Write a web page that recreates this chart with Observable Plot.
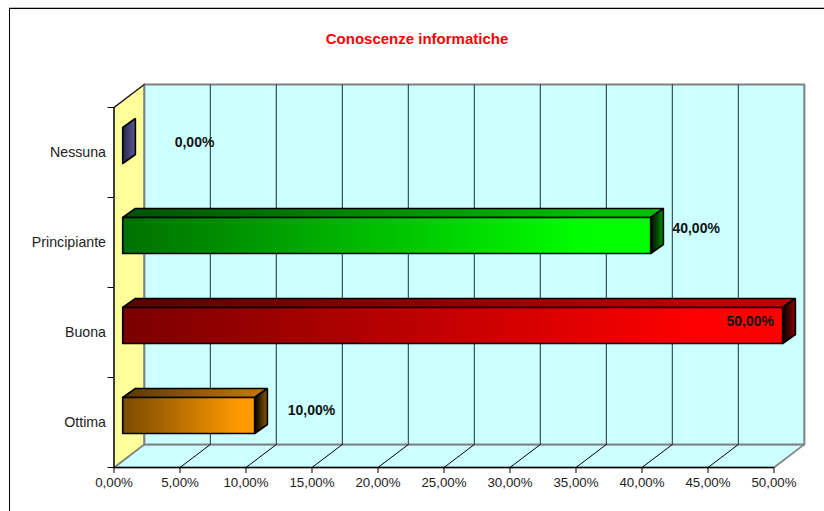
<!DOCTYPE html>
<html>
<head>
<meta charset="utf-8">
<script src="https://cdn.jsdelivr.net/npm/d3@7"></script>
<script src="https://cdn.jsdelivr.net/npm/@observablehq/plot@0.6"></script>
<style>
html,body{margin:0;padding:0;background:#fff;}
#wrap{position:relative;width:824px;height:511px;overflow:hidden;font-family:"Liberation Sans",Arial,sans-serif;}
#frame{position:absolute;left:9px;top:8px;right:-5px;bottom:-5px;border:1px solid #000;box-shadow:0 -1px 0 #bbb;}
#title{position:absolute;left:0;top:30px;width:834px;text-align:center;color:#ff0000;font-weight:bold;font-size:15px;line-height:17px;}
#chart{position:absolute;left:0;top:0;}
svg{display:block;overflow:visible;}
</style>
</head>
<body>
<div id="wrap"><div id="frame"></div><div id="title">Conoscenze informatiche</div><div id="chart"></div></div>
<script>
// Data (top to bottom)
const categories = ["Nessuna", "Principiante", "Buona", "Ottima"];
const values = [0, 40, 50, 10];
const labels = ["0,00%", "40,00%", "50,00%", "10,00%"];
const gradients = [
  ["#25254a", "#55558f"],
  ["#007000", "#00ff00"],
  ["#7a0000", "#ff0000"],
  ["#7a4a00", "#ff9900"]
];
const xTicks = [0, 5, 10, 15, 20, 25, 30, 35, 40, 45, 50];
const labelX = [6.1, 44.1, 48.2, 14.96];
const labelY = [3.61, 2.656, 1.622, 0.633];

const n = categories.length, xMax = 50;
const rowOf = i => n - 1 - i;
// 3D projection expressed in data units
const wallDX = 2.3, wallDY = 0.256;
const barDX = 0.66, barDY = 0.078;
const sideDX = 0.96, sideDY = 0.1, barH = 0.4;

const poly = (pts, opts) => Plot.line([...pts, pts[0]], {x: d => d[0], y: d => d[1], curve: "linear", ...opts});

const defs = () => {
  const d = d3.create("svg:defs");
  const add = (id, a, b, end) => {
    const g = d.append("linearGradient").attr("id", id).attr("x1", 0).attr("x2", 1).attr("y1", 0).attr("y2", 0);
    g.append("stop").attr("offset", 0).attr("stop-color", a);
    g.append("stop").attr("offset", end).attr("stop-color", b);
    g.append("stop").attr("offset", 1).attr("stop-color", b);
  };
  gradients.forEach(([a, b], i) => {
    add(`front${i}`, a, b, 0.88);
    add(`top${i}`, d3.rgb(a).darker(0.9), d3.rgb(b).darker(0.8), 0.88);
    add(`side${i}`, "#000", d3.rgb(b).darker(1.6), 1);
  });
  return d.node();
};

const barMarks = categories.flatMap((c, i) => {
  const r = rowOf(i), v = values[i];
  const x0 = barDX, x1 = v + barDX;
  const yB = r + 0.5 + barDY - barH / 2, yT = yB + barH;
  const st = {stroke: "#000", strokeWidth: 1.6, strokeLinejoin: "miter"};
  const marks = [];
  if (v > 0) {
    marks.push(poly([[x0, yT], [x0 + sideDX, yT + sideDY], [x1 + sideDX, yT + sideDY], [x1, yT]], {fill: `url(#top${i})`, ...st}));
    marks.push(poly([[x0, yB], [x1, yB], [x1, yT], [x0, yT]], {fill: `url(#front${i})`, ...st}));
  }
  marks.push(poly([[x1, yB], [x1 + sideDX, yB + sideDY], [x1 + sideDX, yT + sideDY], [x1, yT]],
    {fill: v > 0 ? `url(#side${i})` : `url(#front${i})`, ...st}));
  return marks;
});

const plot = Plot.plot({
  width: 824, height: 511,
  marginLeft: 113.5, marginRight: 50.5, marginTop: 107, marginBottom: 44,
  style: {background: "transparent", fontFamily: '"Liberation Sans",Arial,sans-serif', fontSize: "13px", color: "#222"},
  x: {domain: [0, xMax], label: null},
  y: {domain: [0, n], label: null},
  marks: [
    defs,
    // floor
    poly([[0, 0], [xMax, 0], [xMax + wallDX, wallDY], [wallDX, wallDY]], {fill: "#ccffff", stroke: "#808080", strokeWidth: 1.6}),
    // left wall
    poly([[0, 0], [wallDX, wallDY], [wallDX, n + wallDY], [0, n]], {fill: "#ffff99", stroke: "#808080", strokeWidth: 1.6}),
    // back wall
    poly([[wallDX, wallDY], [xMax + wallDX, wallDY], [xMax + wallDX, n + wallDY], [wallDX, n + wallDY]], {fill: "#ccffff", stroke: "#808080", strokeWidth: 2}),
    // grid on the back wall
    Plot.ruleX(xTicks.slice(1, -1), {x: d => d + wallDX, y1: wallDY, y2: n + wallDY, stroke: "#3c5050", strokeWidth: 1.2}),
    // grid on the floor
    ...xTicks.slice(1, -1).map(t => Plot.line([[t, 0], [t + wallDX, wallDY]], {x: d => d[0], y: d => d[1], stroke: "#000", strokeWidth: 1})),
    // top edge of left wall, front axes
    Plot.line([[0, n], [wallDX, n + wallDY]], {x: d => d[0], y: d => d[1], stroke: "#000", strokeWidth: 1}),
    Plot.ruleX([0], {y1: 0, y2: n, stroke: "#000", strokeWidth: 1.2}),
    Plot.ruleY([0], {x1: 0, x2: xMax, stroke: "#000", strokeWidth: 1.4}),
    Plot.axisX({ticks: xTicks, tickFormat: d => d3.format(".2f")(d).replace(".", ",") + "%", tickSize: 6, tickPadding: 4, stroke: "#000", fontSize: 13.3, fill: "#222"}),
    Plot.axisY({ticks: d3.range(0, n + 1), tickFormat: () => "", tickSize: 6, stroke: "#000"}),
    Plot.axisY({ticks: categories.map((c, i) => rowOf(i) + 0.5), tickFormat: t => categories[n - 1 - Math.floor(t)], tickSize: 0, tickPadding: 8, fontSize: 14.2, fill: "#222"}),
    ...barMarks,
    Plot.text(labels, {x: (d, i) => labelX[i], y: (d, i) => labelY[i], text: d => d, fontWeight: "bold", fontSize: 14, fill: "#111"})
  ]
});
document.getElementById("chart").append(plot);
</script>
</body>
</html>
